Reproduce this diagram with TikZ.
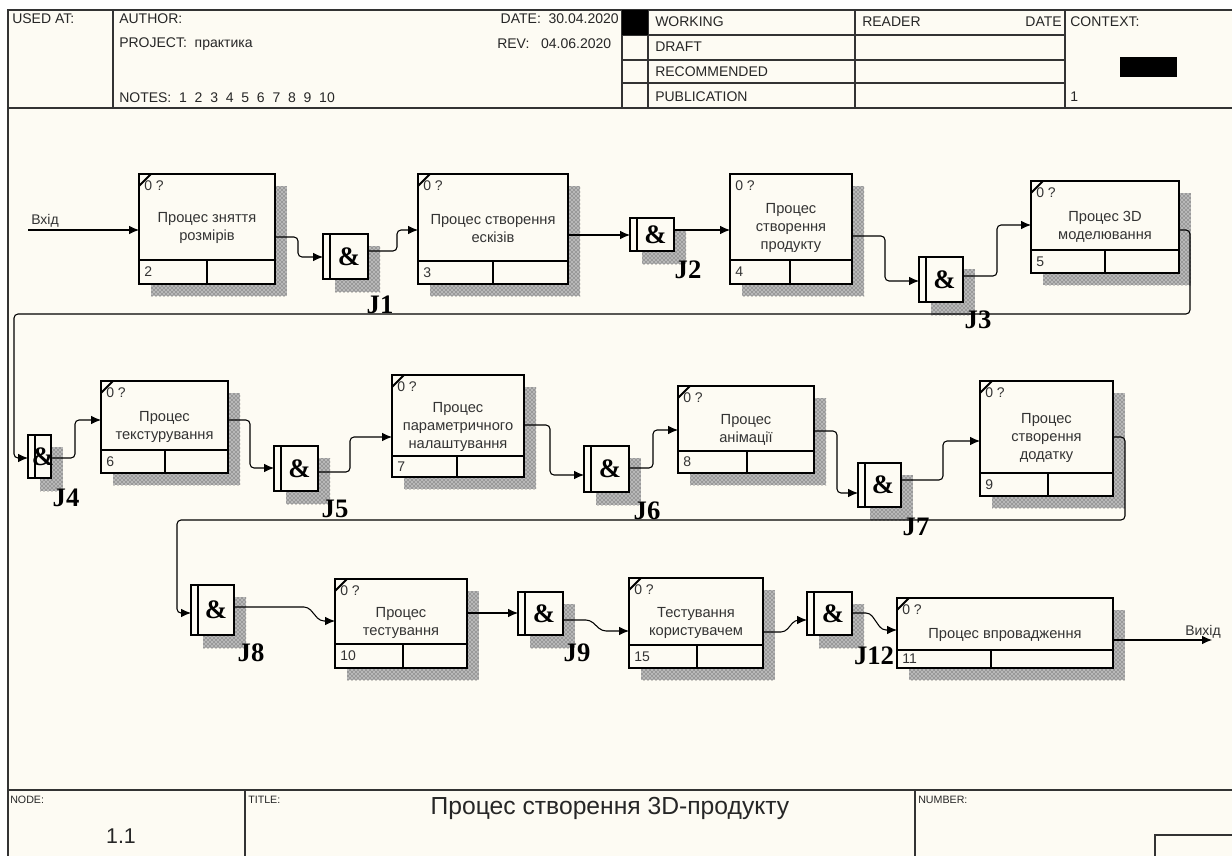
\documentclass[tikz,border=0pt]{standalone}
\usepackage{fontspec}
\setmainfont{Liberation Sans}
\newfontfamily\timesf{Liberation Serif}
\usetikzlibrary{fit,patterns,arrows.meta,calc}
\definecolor{bg}{RGB}{253,251,243}
\tikzset{
  frameline/.style={line width=1.1pt, draw=black!80},
  boxline/.style={line width=1.7pt, draw=black, fill=bg, inner sep=0pt, outer sep=0pt},
  shadowfill/.style={fill=black!28, postaction={pattern=crosshatch dots, pattern color=black!80}},
  conn/.style={line width=0.8pt, rounded corners=3pt, -{Latex[length=7.5pt,width=6.5pt]}},
  btxt/.style={font=\fontsize{11}{13.5}\selectfont, text=black!80, align=center},
  small/.style={font=\fontsize{10.5}{12}\selectfont, text=black!80, anchor=west, inner sep=0pt},
  jlab/.style={font=\timesf\bfseries\fontsize{20}{20}\selectfont, inner sep=0pt},
  amp/.style={font=\timesf\bfseries\fontsize{20}{20}\selectfont, inner sep=0pt},
  hdr/.style={font=\fontsize{10.5}{12}\selectfont, anchor=west, inner sep=0pt, text=black!85},
  ftr/.style={font=\fontsize{8}{9}\selectfont, anchor=west, inner sep=0pt, text=black!85},
}
% activity box: name, L, T, R, B, strip y, divider x, text, number
\newcommand\abox[9]{%
  \fill[shadowfill] (#2+12,#3+12) rectangle (#4+12,#5+12);
  \node[boxline, fit={(#2,#3) (#4,#5)}] (#1) {};
  \draw[line width=1.7pt] (#2,#6) -- (#4,#6) (#7,#6) -- (#7,#5);
  \node[small] at (#2+5,#3+12) {0 ?};
  \node[small] at (#2+5,{(#6+#5)/2}) {#9};
  \node[btxt] at ({(#2+#4)/2},{(#3+#6)/2+11}) {#8};
}
\newcommand\tickmark[1]{\draw[line width=1.4pt] (#1.north west) ++(0,12) -- ++(12,-12);}
% junction: name, L, T, R, B
\newcommand\junc[5]{%
  \fill[shadowfill] (#2+12,#3+12) rectangle (#4+12,#5+13);
  \node[boxline, fit={(#2,#3) (#4,#5)}] (#1) {};
  \draw[line width=1.7pt] (#2+7,#3) -- (#2+7,#5);
  \node[amp] at ({(#2+7+#4)/2},{(#3+#5)/2}) {\&};
}
\begin{document}
\begin{tikzpicture}[x=0.75pt,y=-0.75pt]
\useasboundingbox (0,0) rectangle (1232,856);
\fill[white] (0,0) rectangle (1232,856);
\fill[bg] (8,10) rectangle (1232,856);

% ---------- frame / header ----------
\draw[frameline] (1232,10) -- (8,10) -- (8,856);
\draw[frameline] (8,108) -- (1232,108);
\draw[frameline] (113,10) -- (113,108);
\draw[frameline] (622,10) -- (622,108);
\draw[frameline] (648,10) -- (648,108);
\draw[frameline] (855,10) -- (855,108);
\draw[frameline] (1065,10) -- (1065,108);
\draw[frameline] (622,35) -- (1065,35);
\draw[frameline] (622,60) -- (1065,60);
\draw[frameline] (622,83) -- (1065,83);
\fill[black] (622,10) rectangle (648,35);
\fill[black] (1120,57) rectangle (1177,77);

\node[hdr] (usedat) at (12,19) {USED AT:};
\node[hdr] (author) at (119,19) {AUTHOR:};
\node[hdr] (project) at (119,44) {PROJECT:\ \ практика};
\node[hdr] (notes) at (119,98) {NOTES:\ \ 1\ \ 2\ \ 3\ \ 4\ \ 5\ \ 6\ \ 7\ \ 8\ \ 9\ \ 10};
\node[hdr, anchor=east] (date) at (619,19) {DATE:\ \ 30.04.2020};
\node[hdr] (rev) at (497,44) {REV:\ \ \ 04.06.2020};
\node[hdr] (working) at (655,22) {WORKING};
\node[hdr] (draft) at (655,47) {DRAFT};
\node[hdr] (recom) at (655,72) {RECOMMENDED};
\node[hdr] (public) at (655,97) {PUBLICATION};
\node[hdr] (reader) at (862,22) {READER};
\node[hdr, anchor=east] (rdate) at (1062,22) {DATE};
\node[hdr] (context) at (1070,22) {CONTEXT:};
\node[hdr] (ctxnum) at (1070,97) {1};

% ---------- footer ----------
\draw[frameline] (8,790) -- (1232,790);
\draw[frameline] (245,790) -- (245,856);
\draw[frameline] (915,790) -- (915,856);
\draw[frameline] (1155,856) -- (1155,835) -- (1232,835);
\node[ftr] (nodelab) at (10,800) {NODE:};
\node[font=\fontsize{16}{18}\selectfont, text=black!85] (nodenum) at (121,836) {1.1};
\node[ftr] (titlelab) at (248,800) {TITLE:};
\node[font=\fontsize{18.5}{20}\selectfont, text=black!85] (title) at (610,808) {Процес створення 3D-продукту};
\node[ftr] (numberlab) at (918,800) {NUMBER:};

% ---------- activity boxes ----------
\abox{box2}{139}{174}{275}{284}{260}{207}{Процес зняття\\розмірів}{2}
\abox{box3}{418}{174}{568}{284}{261}{493}{Процес створення\\ескізів}{3}
\abox{box4}{730}{174}{852}{284}{260}{790}{Процес\\створення\\продукту}{4}
\abox{box5}{1031}{181}{1179}{273}{250}{1105}{Процес 3D\\моделювання}{5}
\abox{box6}{101}{381}{228}{473}{450}{165}{Процес\\текстурування}{6}
\abox{box7}{392}{375}{524}{477}{456}{457}{Процес\\параметричного\\налаштування}{7}
\abox{box8}{678}{386}{814}{473}{451}{747}{Процес\\анімації}{8}
\abox{box9}{980}{381}{1113}{496}{473}{1048}{Процес\\створення\\додатку}{9}
\abox{box10}{335}{579}{467}{668}{644}{403}{Процес\\тестування}{10}
\abox{box15}{629}{578}{763}{668}{645}{697}{Тестування\\користувачем}{15}
\abox{box11}{897}{598}{1113}{668}{650}{991}{Процес впровадження}{11}
\tickmark{box2}\tickmark{box3}\tickmark{box5}\tickmark{box6}\tickmark{box7}
\tickmark{box8}\tickmark{box9}\tickmark{box10}\tickmark{box15}\tickmark{box11}

% ---------- junctions ----------
\junc{j1}{323}{234}{368}{279}
\junc{j2}{630}{218}{674}{251}
\junc{j3}{919}{257}{963}{302}
\junc{j4}{28}{435}{51}{478}
\junc{j5}{274}{446}{318}{491}
\junc{j6}{584}{446}{629}{492}
\junc{j7}{858}{463}{901}{507}
\junc{j8}{191}{585}{234}{635}
\junc{j9}{518}{592}{563}{635}
\junc{j12}{807}{592}{852}{635}
\node[jlab] (j1l) at (380,305) {J1};
\node[jlab] (j2l) at (688,270) {J2};
\node[jlab] (j3l) at (978,320) {J3};
\node[jlab] (j4l) at (66,498) {J4};
\node[jlab] (j5l) at (335,509) {J5};
\node[jlab] (j6l) at (647,511) {J6};
\node[jlab] (j7l) at (916,527) {J7};
\node[jlab] (j8l) at (251,653) {J8};
\node[jlab] (j9l) at (577,653) {J9};
\node[jlab] (j12l) at (874,656) {J12};

% ---------- connectors ----------
\coordinate (in) at (28,230);
\coordinate (out) at (1212,640);
\node[small] (inlab) at (31,221) {Вхід};
\node[small] (outlab) at (1185,632) {Вихід};
\draw[conn] (in) -- (box2.west |- 0,230);
\draw[conn] (box2.east |- 0,237) -- (298,237) -- (298,257) -- (j1.west |- 0,257);
\draw[conn] (j1.east |- 0,251) -- (397,251) -- (397,230) -- (box3.west |- 0,230);
\draw[conn] (box3.east |- 0,235) -- (j2.west |- 0,235);
\draw[conn] (j2.east |- 0,230) -- (box4.west |- 0,230);
\draw[conn] (box4.east |- 0,236) -- (885,236) -- (885,281) -- (j3.west |- 0,281);
\draw[conn] (j3.east |- 0,276) -- (997,276) -- (997,225) -- (box5.west |- 0,225);
\draw[conn] (box5.east |- 0,230) -- (1190,230) -- (1190,314) -- (14,314) -- (14,458) -- (j4.west |- 0,458);
\draw[conn] (j4.east |- 0,458) -- (75,458) -- (75,420) -- (box6.west |- 0,420);
\draw[conn] (box6.east |- 0,420) -- (250,420) -- (250,468) -- (j5.west |- 0,468);
\draw[conn] (j5.east |- 0,472) -- (350,472) -- (350,437) -- (box7.west |- 0,437);
\draw[conn] (box7.east |- 0,425) -- (550,425) -- (550,475) -- (j6.west |- 0,475);
\draw[conn] (j6.east |- 0,468) -- (653,468) -- (653,430) -- (box8.west |- 0,430);
\draw[conn] (box8.east |- 0,431) -- (837,431) -- (837,493) -- (j7.west |- 0,493);
\draw[conn] (j7.east |- 0,480) -- (943,480) -- (943,441) -- (box9.west |- 0,441);
\draw[conn] (box9.east |- 0,437) -- (1125,437) -- (1125,520) -- (177,520) -- (177,613) -- (j8.west |- 0,613);
\draw[conn] (j8.east |- 0,607) -- (308,607) -- (320,621) -- (box10.west |- 0,621);
\draw[conn] (box10.east |- 0,613) -- (j9.west |- 0,613);
\draw[conn] (j9.east |- 0,620) -- (590,620) -- (602,631) -- (box15.west |- 0,631);
\draw[conn] (box15.east |- 0,632) -- (785,632) -- (795,620) -- (j12.west |- 0,620);
\draw[conn] (j12.east |- 0,613) -- (870,613) -- (882,630) -- (box11.west |- 0,630);
\draw[conn] (box11.east |- 0,640) -- (out);
\end{tikzpicture}
\end{document}
